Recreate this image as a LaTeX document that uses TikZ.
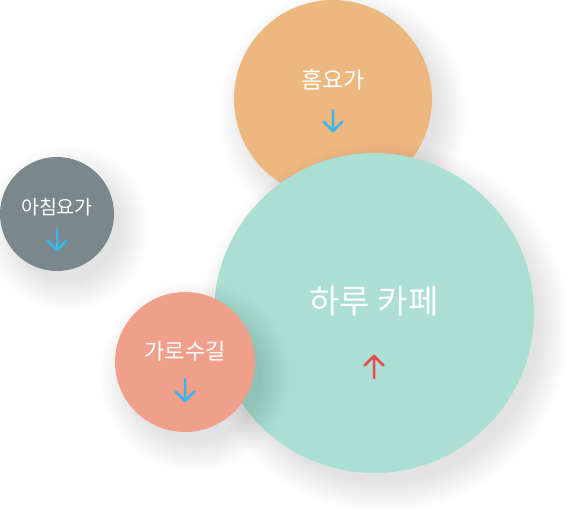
\documentclass[tikz,border=0pt]{standalone}
\usepackage{fontspec}
\newfontfamily\kr{Noto Sans CJK KR}
\usetikzlibrary{arrows.meta}
\definecolor{corange}{HTML}{EDB87F}
\definecolor{cteal}{HTML}{ABDFD4}
\definecolor{cgray}{HTML}{7A878B}
\definecolor{csalmon}{HTML}{F0A08A}
\definecolor{cblue}{HTML}{3DB4EA}
\definecolor{cred}{HTML}{E84B4B}
\tikzset{
  bubble/.style={circle, inner sep=0pt, minimum size=#1},
  lbl/.style={text=white, inner sep=0pt},
  icon/.style={line width=2.5pt, line cap=round, line join=round},
}
\newcommand{\softshadow}[3]{% x, y, r
  \foreach \i in {1,...,14}{
    \fill[black, opacity=0.006] (#1+10,#2+14) circle ({#3-6+\i*2.2});
  }
}
\begin{document}
\begin{tikzpicture}[x=1pt,y=-1pt]
\useasboundingbox (0,0) rectangle (576,515);
% orange
\softshadow{333}{99}{99}
\node[bubble=198pt, fill=corange] (home) at (333,99) {};
% teal
\softshadow{374}{313}{160}
\node[bubble=320pt, fill=cteal] (cafe) at (374,313) {};
% salmon
\softshadow{185}{362}{70}
\node[bubble=140pt, fill=csalmon] (street) at (185,362) {};
% gray
\softshadow{57}{214}{57}
\node[bubble=114pt, fill=cgray] (morning) at (57,214) {};
% labels
\node[lbl, font=\kr\fontsize{23}{23}\selectfont] (t1) at (333,80) {홈요가};
\node[lbl, font=\kr\fontsize{19.5}{19.5}\selectfont] (t2) at (57,207) {아침요가};
\node[lbl, font=\kr\fontsize{22}{22}\selectfont] (t3) at (185,351) {가로수길};
\node[lbl, font=\kr\fontsize{33}{33}\selectfont] (t4) at (374,301) {하루 카페};
% arrows
\draw[icon, cblue] (333,110) -- (333,131) (323.5,121.5) -- (333,131) -- (342.5,121.5);
\draw[icon, cblue] (57,229) -- (57,250) (47.5,240.5) -- (57,250) -- (66.5,240.5);
\draw[icon, cblue] (185,379) -- (185,401) (175.5,391.5) -- (185,401) -- (194.5,391.5);
\draw[icon, cred] (374,378) -- (374,356) (364.5,365.5) -- (374,356) -- (383.5,365.5);
\end{tikzpicture}
\end{document}
